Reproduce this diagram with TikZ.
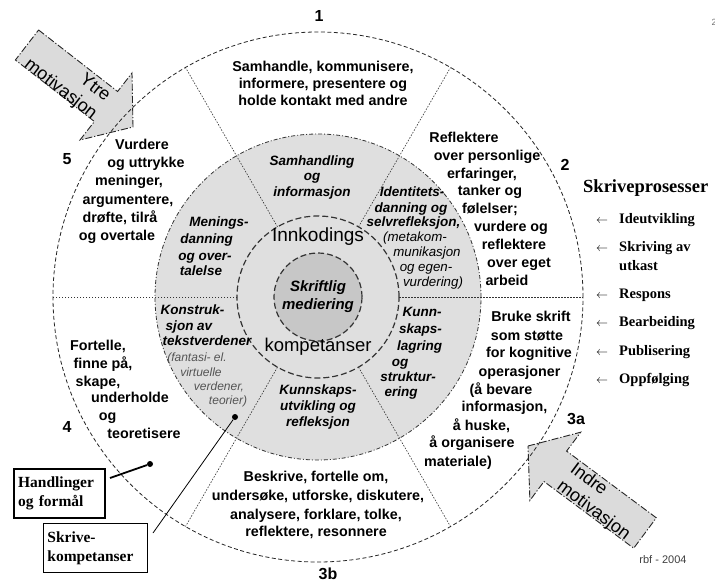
\documentclass[tikz,border=0pt]{standalone}
\usepackage{fontspec}
\setmainfont{Liberation Sans}
\newfontfamily\tnr{Liberation Serif}

\definecolor{ringgray}{gray}{0.875}
\definecolor{coregray}{gray}{0.78}
\definecolor{arrowgray}{gray}{0.86}
\definecolor{notegray}{gray}{0.33}

% one node per printed line: name prefix, style, list of x/y/text
\newcommand\textlines[3]{%
  \foreach \px/\py/\tx [count=\k] in {#3}{\node[#2] (#1-\k) at (\px,\py) {\tx};}}

\tikzset{
  base/.style={inner sep=0pt, text height=1.5ex, text depth=.25ex},
  sect/.style={base, font=\fontsize{14.3}{16}\selectfont\bfseries},
  ring/.style={base, font=\fontsize{13.5}{15}\selectfont\bfseries\itshape},
  ringnote/.style={base, font=\fontsize{13.3}{15}\selectfont\itshape},
  greynote/.style={base, font=\fontsize{12}{14}\selectfont\itshape, text=notegray},
  secnum/.style={base, font=\fontsize{16}{18}\selectfont\bfseries},
  proc/.style={base, anchor=west, font=\tnr\fontsize{14.5}{16}\selectfont\bfseries},
  procarrow/.style={base, font=\fontsize{12}{14}\selectfont},
  motarrow/.style={fill=arrowgray, draw=black!85, line width=0.9pt,
    dash pattern=on 7pt off 2pt on 1.2pt off 2pt, line join=miter},
  mottext/.style={inner sep=0pt, font=\fontsize{18}{22}\selectfont},
  outerring/.style={draw=black!85, line width=0.8pt, dash pattern=on 4pt off 2.5pt},
  midring/.style={draw=black!80, line width=0.8pt, dash pattern=on 4pt off 2pt on 1pt off 2pt},
  innerring/.style={draw=black!80, line width=1.2pt, dash pattern=on 6pt off 3pt},
  spoke/.style={draw=black!80, line width=0.6pt, dash pattern=on 1.5pt off 1.5pt},
  legendbox/.style={draw=black, align=left, anchor=north west, inner xsep=4pt,
    inner ysep=0pt, minimum height=49pt, font=\tnr\fontsize{15.5}{19}\selectfont\bfseries},
  dot/.style={circle, fill=black, inner sep=0pt, minimum size=6pt},
}

\begin{document}
\begin{tikzpicture}[x=1pt, y=-1pt]
\useasboundingbox[fill=white] (0,0) rectangle (715,583);

% motivation arrows
\draw[motarrow] (38.6,30) -- (117.6,91.5) -- (132,73) -- (133,127) -- (80,140)
  -- (94.4,121.5) -- (15.4,60) -- cycle;
\node[mottext, align=right, rotate=-37.7] (ytre) at (67,81) {Ytre\\motivasjon};

\draw[motarrow] (528,446) -- (580.7,432.2) -- (566.6,451.1) -- (656.3,517.8)
  -- (633.7,548.2) -- (544,481.5) -- (529.9,500.4) -- cycle;
\node[mottext, align=left, rotate=-36.7] (indre) at (600,502) {Indre\\motivasjon};

% rings
\begin{scope}[shift={(318,297)}]
  \fill[ringgray] (0,0) circle[radius=163pt];
  \fill[coregray] (0,0) circle[radius=44pt];
  \foreach \a in {0,60,...,300}
    \draw[spoke] (\a:81) -- (\a:265);
  \draw[outerring] (0,0) circle[radius=265pt];
  \draw[midring] (0,0) circle[radius=163pt];
  \draw[innerring] (0,0) circle[radius=81pt];
  \draw[innerring] (0,0) circle[radius=44pt];
\end{scope}

% centre
\node[base, font=\fontsize{19}{21}\selectfont] (innk) at (318,238) {Innkodings};
\node[base, font=\fontsize{18.5}{21}\selectfont] (komp) at (318,348) {kompetanser};
\node[base, font=\fontsize{15}{18}\selectfont\bfseries\itshape] (skr) at (318,288) {Skriftlig};
\node[base, font=\fontsize{15}{18}\selectfont\bfseries\itshape] (med) at (318,306) {mediering};

% outer sectors
\textlines{s1}{sect}{323/68/{Samhandle, kommunisere,}, 323/85/{informere, presentere og},
  323/102/{holde kontakt med andre}}
\textlines{s2}{sect}{464/139/{Reflektere}, 487/157/{over personlige}, 482/175/{erfaringer,},
  490/192/{tanker og}, 490/210/{følelser;}, 511/228/{vurdere og}, 514/246/{reflektere},
  519/264/{over eget}, 507/282/{arbeid}}
\textlines{s5}{sect}{142/146/{Vurdere}, 146/164/{og uttrykke}, 129/182/{meninger,},
  128/201/{argumentere,}, 120/219/{drøfte, tilrå}, 117/237/{og overtale}}
\textlines{s4}{sect}{98/347/{Fortelle,}, 103/365/{finne på,}, 98/383/{skape,},
  130/399/{underholde}, 107.5/417/{og}, 144/435/{teoretisere}}
\textlines{s3b}{sect}{316/478/{Beskrive, fortelle om,}, 318/497/{undersøke, utforske, diskutere,},
  316/516/{analysere, forklare, tolke,}, 316/533/{reflektere, resonnere}}
\textlines{s3a}{sect}{531/318/{Bruke skrift}, 527/337/{som støtte}, 529/354/{for kognitive},
  519.5/373/{operasjoner}, 501/391/{(å bevare}, 504.5/408/{informasjon,},
  481.5/427/{å huske,}, 472/444/{å organisere}, 458/463/{materiale)}}

% grey ring
\textlines{r1}{ring}{312/162/{Samhandling}, 312/177/{og}, 312/193/{informasjon}}
\textlines{r5}{ring}{219/223/{Menings-}, 206.5/240/{danning}, 205/257/{og over-}, 201/272/{talelse}}
\textlines{r2}{ring}{412/193/{Identitets-}, 411/209/{danning og}, 413.5/223/{selvrefleksjon,}}
\textlines{n2}{ringnote}{415/238/{(metakom-}, 427/253/{munikasjon}, 426/268/{og egen-},
  433/283/{vurdering)}}
\textlines{r4}{ring}{192.5/311/{Konstruk-}, 189/327/{sjon av}, 207/342/{tekstverdener}}
\textlines{n4}{greynote}{197/358/{(fantasi- el.}, 201/373/{virtuelle}, 219/387/{verdener,},
  228/401/{teorier)}}
\textlines{r3a}{ring}{422/313/{Kunn-}, 420.5/330/{skaps-}, 419.5/347/{lagring}, 400/363/{og},
  408/378/{struktur-}, 401/393/{ering}}
\textlines{r3b}{ring}{318/391/{Kunnskaps-}, 318/407/{utvikling og}, 318/423/{refleksjon}}

% sector numbers
\node[secnum] (n1) at (319,18) {1};
\node[secnum] (n2) at (565,167) {2};
\node[secnum] (n5) at (67,161) {5};
\node[secnum] (n4) at (67,429) {4};
\node[secnum] (n3b) at (328,576) {3b};
\node[secnum] (n3a) at (576,421) {3a};

% writing processes
\node[base, anchor=west, font=\tnr\fontsize{18.5}{21}\selectfont\bfseries] (sp) at (583,189) {Skriveprosesser};
\foreach \py/\tx [count=\k] in {220/{Ideutvikling}, 248/{Skriving av}, 295/{Respons},
  323/{Bearbeiding}, 352/{Publisering}, 380/{Oppfølging}}{
  \node[procarrow] (pa-\k) at (602,\py) {$\leftarrow$};
  \node[proc] (p-\k) at (619,\py) {\tx};
}
\node[proc] (p-2b) at (619,267) {utkast};

% legend boxes and pointers
\node[legendbox, line width=2.2pt, text width=83pt] (hand) at (13,468) {Handlinger\\og formål};
\node[legendbox, line width=0.8pt, text width=96pt] (skomp) at (43,523) {Skrive-\\kompetanser};
\node[dot] (hdot) at (150,464) {};
\node[dot] (sdot) at (235,417) {};
\coordinate (hend) at (110,478);
\coordinate (send) at (153,533);
\draw[line width=1.8pt] (hend) -- (hdot);
\draw[line width=0.8pt] (send) -- (sdot);

% credits
\node[base, font=\fontsize{11}{13}\selectfont, text=black!75] (rbf) at (663,560) {rbf - 2004};
\node[base, font=\fontsize{9}{11}\selectfont, text=black!55] (pg) at (714,22) {2};
\end{tikzpicture}
\end{document}
